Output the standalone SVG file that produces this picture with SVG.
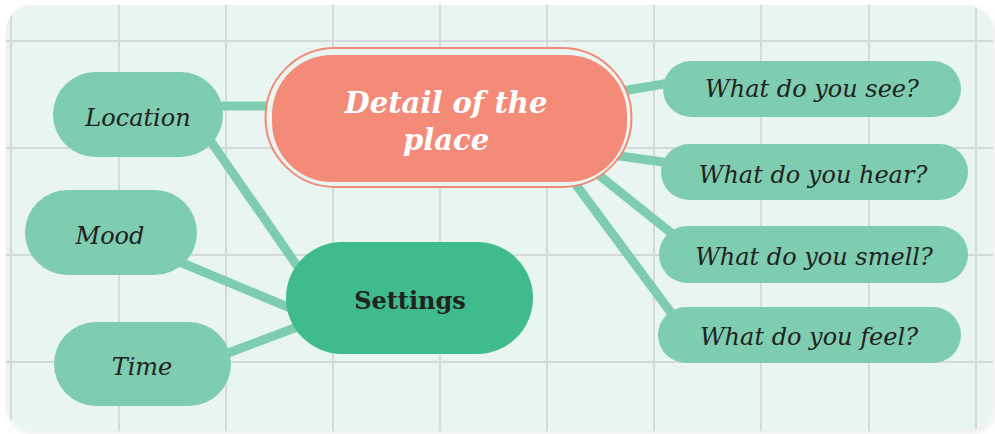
<svg xmlns="http://www.w3.org/2000/svg" width="995" height="434" viewBox="0 0 995 434">
  <defs>
    <style>
      .grid line { stroke: #d4dad8; stroke-width: 2; }
      .conn line { stroke: #7ecdb0; stroke-width: 9; stroke-linecap: butt; }
      .leaf { fill: #7ecdb0; }
      .lbl { font-family: "DejaVu Serif", "Liberation Serif", serif; font-style: italic; fill: #222222; text-anchor: middle; }
      .ll { font-size: 24px; }
      .rl { font-size: 24px; }
      .big { font-family: "DejaVu Serif", "Liberation Serif", serif; font-style: italic; font-weight: bold; font-size: 29px; fill: #ffffff; text-anchor: middle; }
    </style>
    <clipPath id="bgclip">
      <rect x="6" y="5" width="987" height="426" rx="26"/>
    </clipPath>
    <filter id="sh" x="-5%" y="-5%" width="110%" height="115%">
      <feDropShadow dx="2" dy="3" stdDeviation="3" flood-color="#000000" flood-opacity="0.08"/>
    </filter>
  </defs>
  <rect width="995" height="434" fill="#ffffff"/>
  <rect x="6" y="5" width="987" height="426" rx="26" fill="#e9f5f1" filter="url(#sh)"/>
  <g class="grid" clip-path="url(#bgclip)">
    <line x1="11" y1="8" x2="11" y2="420"/>
    <line x1="119" y1="0" x2="119" y2="434"/>
    <line x1="226" y1="0" x2="226" y2="434"/>
    <line x1="333" y1="0" x2="333" y2="434"/>
    <line x1="440" y1="0" x2="440" y2="434"/>
    <line x1="547" y1="0" x2="547" y2="434"/>
    <line x1="654" y1="0" x2="654" y2="434"/>
    <line x1="761" y1="0" x2="761" y2="434"/>
    <line x1="869" y1="0" x2="869" y2="434"/>
    <line x1="976" y1="8" x2="976" y2="430"/>
    <line x1="6" y1="41" x2="993" y2="41"/>
    <line x1="6" y1="148" x2="993" y2="148"/>
    <line x1="6" y1="255" x2="993" y2="255"/>
    <line x1="6" y1="362" x2="993" y2="362"/>
  </g>
  <g class="conn" id="connectors">
    <line x1="215" y1="106" x2="280" y2="106"/>
    <line x1="205" y1="133" x2="300" y2="270"/>
    <line x1="175" y1="260" x2="295" y2="310"/>
    <line x1="220" y1="356" x2="300" y2="326"/>
    <line x1="610" y1="93" x2="670" y2="83"/>
    <line x1="605" y1="154" x2="670" y2="163"/>
    <line x1="595" y1="172" x2="675" y2="236"/>
    <line x1="571" y1="178" x2="675" y2="318"/>
  </g>
  <g id="detail">
    <rect x="265.5" y="48" width="366" height="139" rx="69.5" fill="#e9f5f1" stroke="#f08a78" stroke-width="2"/>
    <rect x="272" y="55" width="355" height="127" rx="60" fill="#f48a78"/>
    <text class="big" x="446" y="113">Detail of the</text>
    <text class="big" x="446" y="150">place</text>
  </g>
  <g id="settings">
    <rect x="286" y="242" width="247" height="112" rx="56" fill="#40bb8b"/>
    <text x="410" y="309" font-family="DejaVu Serif, Liberation Serif, serif" font-weight="bold" font-size="24" fill="#222222" text-anchor="middle">Settings</text>
  </g>
  <g id="location">
    <rect class="leaf" x="53" y="72" width="170" height="85" rx="42.5"/>
    <text class="lbl ll" x="138" y="126">Location</text>
  </g>
  <g id="mood">
    <rect class="leaf" x="25" y="190" width="172" height="85" rx="42.5"/>
    <text class="lbl ll" x="110" y="244">Mood</text>
  </g>
  <g id="time">
    <rect class="leaf" x="54" y="322" width="177" height="84" rx="42"/>
    <text class="lbl ll" x="142" y="375">Time</text>
  </g>
  <g id="see">
    <rect class="leaf" x="663" y="61" width="298" height="56" rx="28"/>
    <text class="lbl rl" x="812" y="97">What do you see?</text>
  </g>
  <g id="hear">
    <rect class="leaf" x="661" y="144" width="307" height="56" rx="28"/>
    <text class="lbl rl" x="813" y="183">What do you hear?</text>
  </g>
  <g id="smell">
    <rect class="leaf" x="659" y="226" width="309" height="57" rx="28.5"/>
    <text class="lbl rl" x="814" y="265">What do you smell?</text>
  </g>
  <g id="feel">
    <rect class="leaf" x="658" y="307" width="303" height="56" rx="28"/>
    <text class="lbl rl" x="809" y="345">What do you feel?</text>
  </g>
</svg>
